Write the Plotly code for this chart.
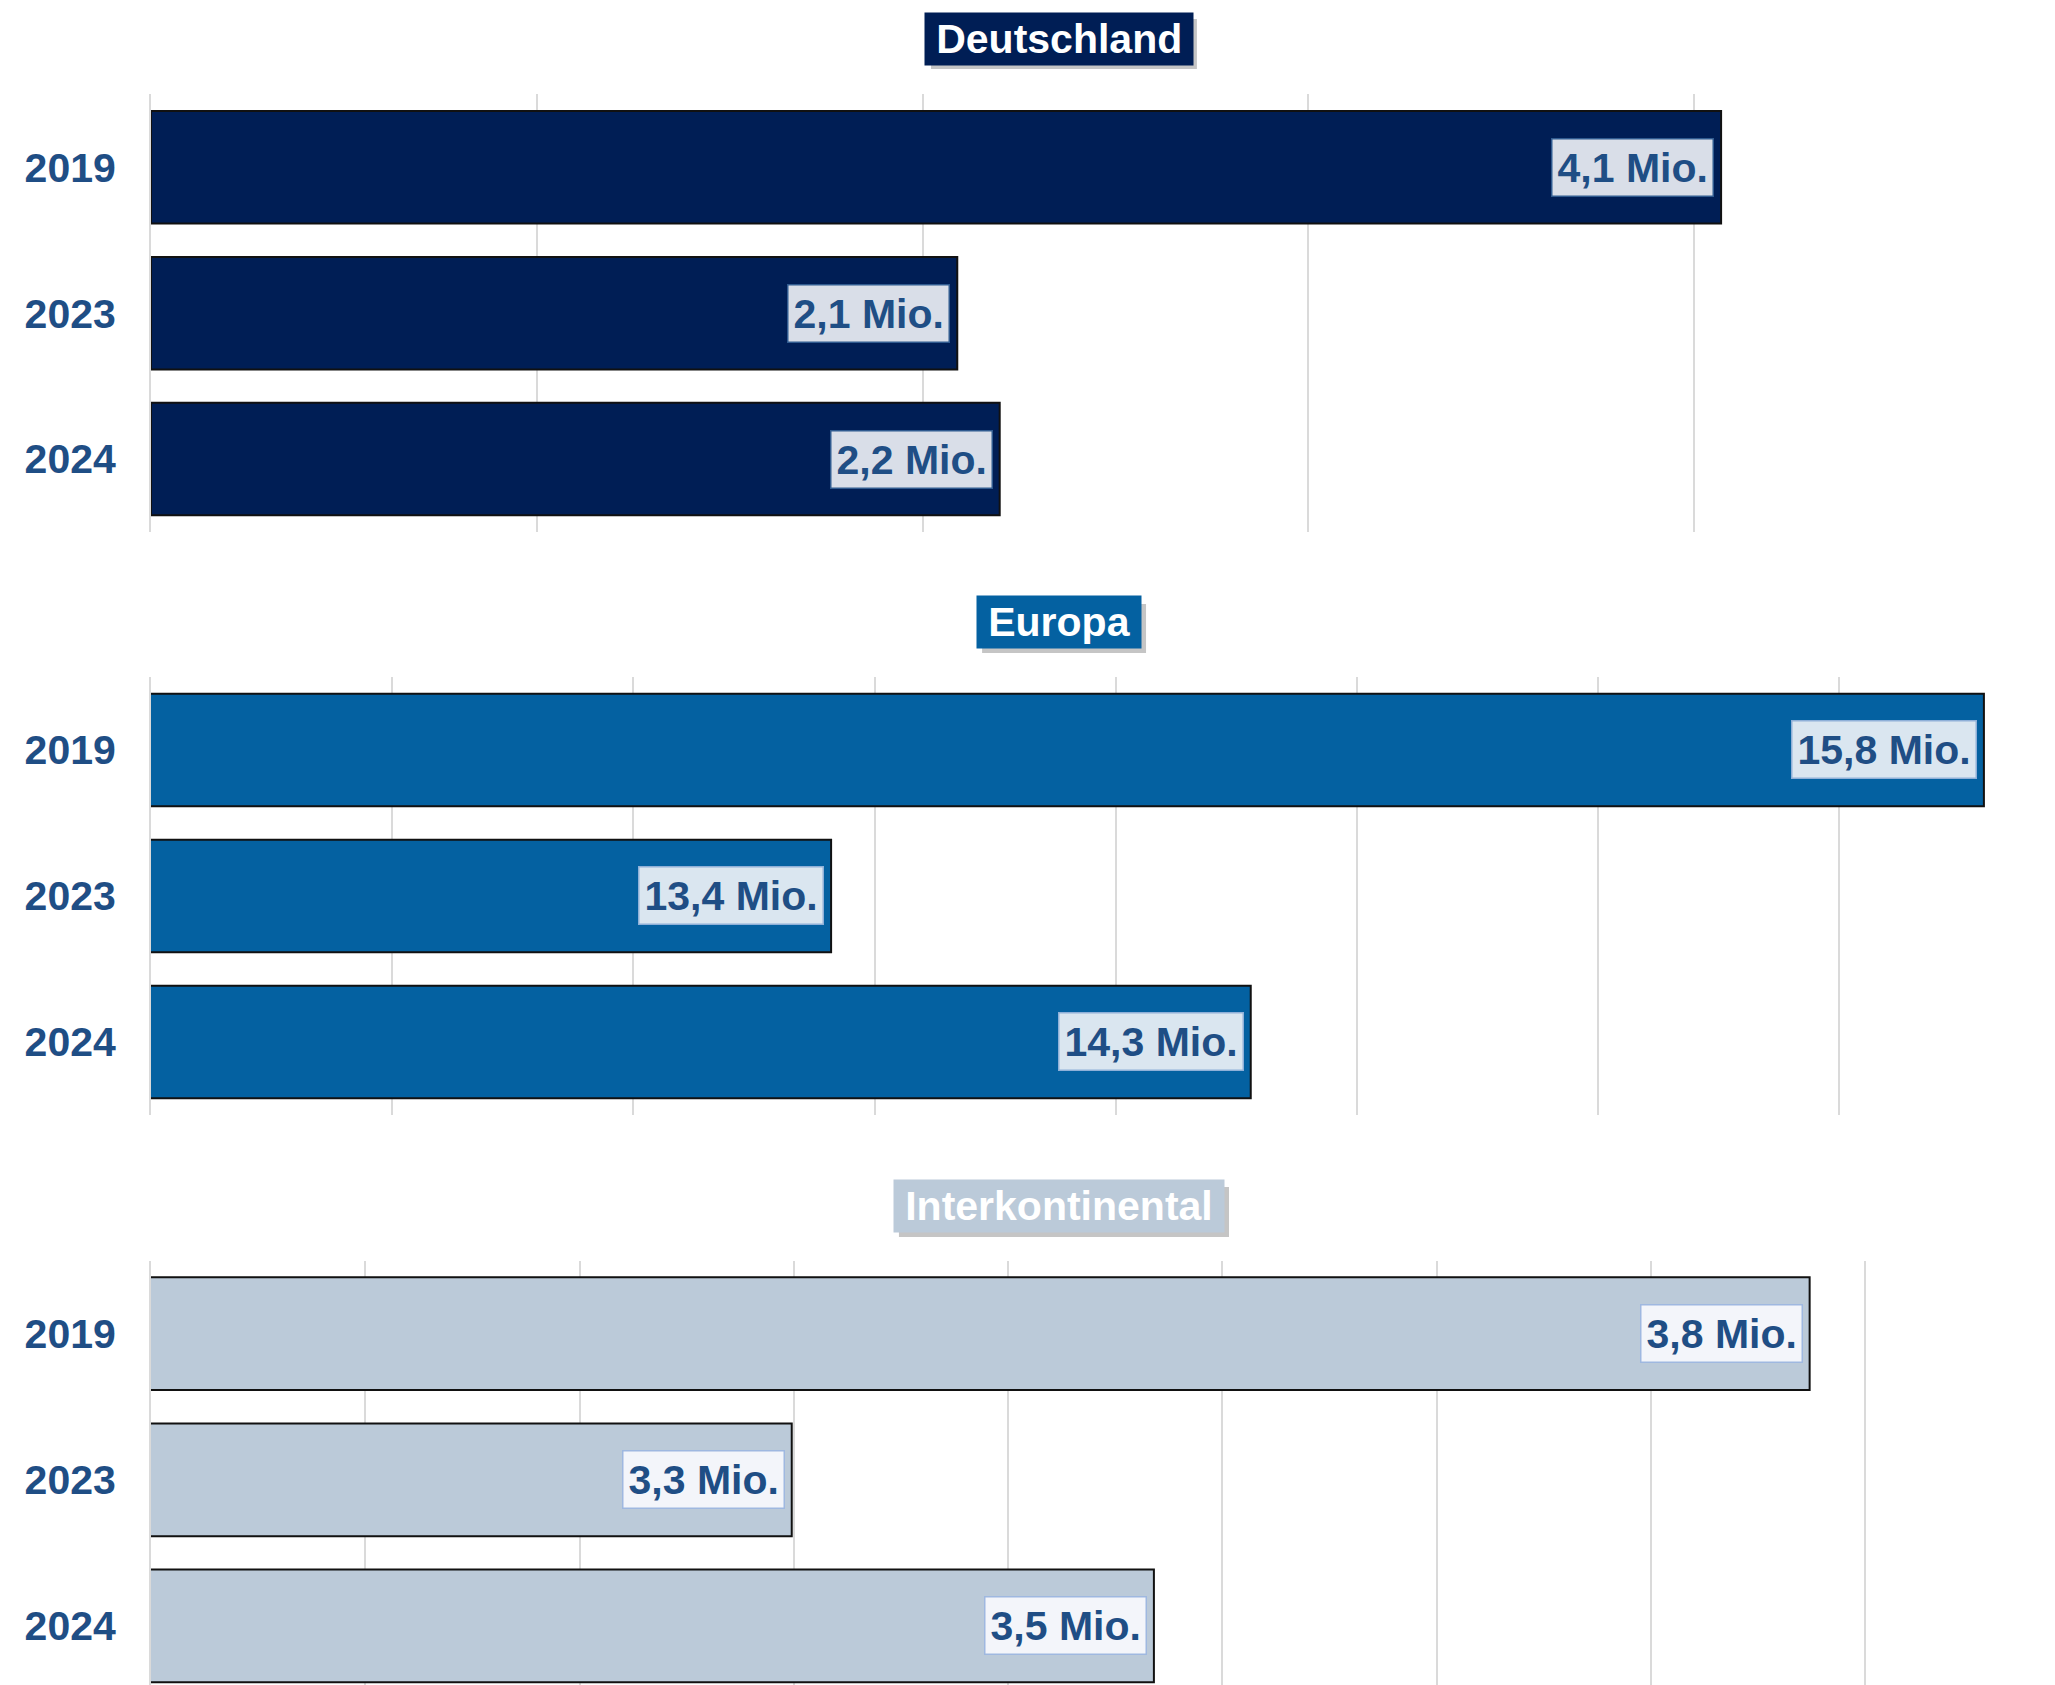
import plotly.graph_objects as go

years = ["2019", "2023", "2024"]
panels = ["Deutschland", "Europa", "Interkontinental"]
deutschland = [4.07, 2.09, 2.20]
europa = [15.80, 13.41, 14.28]
interkontinental = [3.774, 3.299, 3.468]
values = [deutschland, europa, interkontinental]

# axis settings per panel
x_ranges = [[0, 4.78], [12, 15.823], [3.0, 3.8605]]
x_dticks = [1, 0.5, 0.1]
y_ranges = [[2.5, -0.5], [2.5, -0.5], [2.404, -0.5]]
y_domains = [[0.6875, 0.9485], [0.3399, 0.6011], [0.0, 0.2531]]
title_y = [0.9815, 0.6339, 0.2859]
# drop-shadow boxes behind the titles (paper coords: x0, x1, y0, y1)
shadow_boxes = [
    [0.4230, 0.5672, 0.9636, 0.9934],
    [0.4507, 0.5396, 0.6154, 0.6446],
    [0.4056, 0.5846, 0.2671, 0.2970],
]

bar_colors = ["#001E55", "#0461A1", "#BBCAD9"]
title_bg = ["#001E55", "#0461A1", "#BBCAD9"]
label_bg = ["#D9DEE8", "#DAE6F0", "#F3F5FA"]
label_border = ["#2F5A8F", "#8FB0D8", "#9FB8E0"]
text_color = "#1F4E85"
font_family = "Liberation Sans, Arial, sans-serif"

W, H = 2039, 1677
fig = go.Figure()
annotations = []
shapes = []
layout = {}
pad = "\u2009"

for i, (name, vals) in enumerate(zip(panels, values)):
    sfx = "" if i == 0 else str(i + 1)
    xa, ya = "x" + sfx, "y" + sfx
    fig.add_trace(go.Bar(
        x=vals, y=years, orientation="h",
        xaxis=xa, yaxis=ya,
        width=0.771,
        marker=dict(color=bar_colors[i], line=dict(color="#111111", width=2)),
        hoverinfo="skip", showlegend=False,
    ))
    layout["xaxis" + sfx] = dict(
        domain=[0, 1], range=x_ranges[i], dtick=x_dticks[i], tick0=x_ranges[i][0],
        anchor=ya, showgrid=True, gridcolor="#DADADA", gridwidth=2,
        showticklabels=False, zeroline=False, showline=False, ticks="",
        fixedrange=True,
    )
    layout["yaxis" + sfx] = dict(
        domain=y_domains[i], range=y_ranges[i], type="category",
        anchor=xa, showgrid=False, zeroline=False,
        showline=True, linecolor="#DADADA", linewidth=2,
        ticks="", ticklabelstandoff=25,
        tickfont=dict(size=41, color=text_color, family=font_family, weight="bold"),
    )
    # value labels
    for j, v in enumerate(vals):
        annotations.append(dict(
            x=v, y=j, xref=xa, yref=ya, xanchor="right", yanchor="middle",
            xshift=-7, showarrow=False,
            text=f"{v:.1f}".replace(".", ",") + " Mio.",
            font=dict(size=41, color=text_color, family=font_family, weight="bold"),
            bgcolor=label_bg[i], bordercolor=label_border[i], borderwidth=1.5, borderpad=5,
        ))
    # title shadow
    sb = shadow_boxes[i]
    shapes.append(dict(
        type="rect", xref="paper", yref="paper",
        x0=sb[0], x1=sb[1], y0=sb[2], y1=sb[3],
        fillcolor="rgba(90,90,90,0.35)", line=dict(width=0), layer="above",
    ))
    annotations.append(dict(
        x=0.4925, y=title_y[i], xref="paper", yref="paper",
        xanchor="center", yanchor="middle", showarrow=False,
        text=pad + name + pad,
        font=dict(size=41, color="white", family=font_family, weight="bold"),
        bgcolor=title_bg[i], borderpad=3,
    ))

fig.update_layout(
    width=W, height=H,
    margin=dict(l=143, r=52, t=0, b=0),
    paper_bgcolor="white", plot_bgcolor="white",
    annotations=annotations,
    shapes=shapes,
    **layout,
)

fig.write_html("out.html")
